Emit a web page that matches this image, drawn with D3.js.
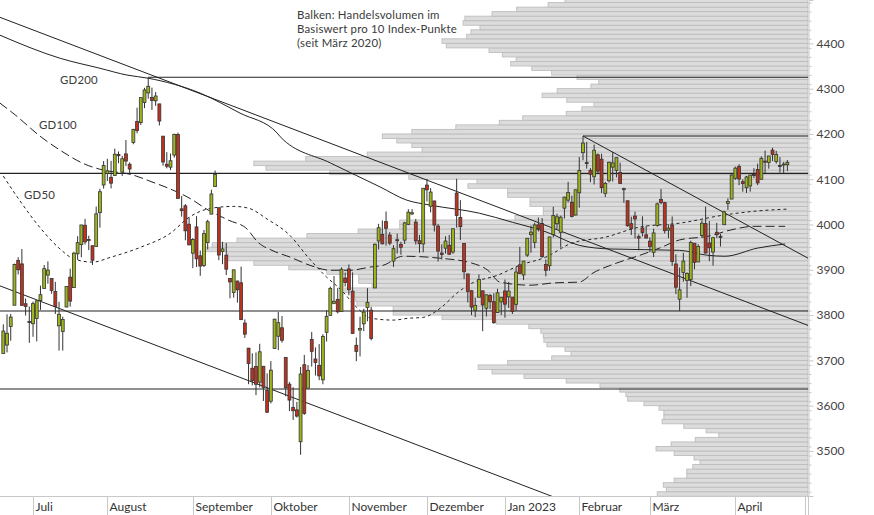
<!DOCTYPE html>
<html><head><meta charset="utf-8">
<script src="https://cdn.jsdelivr.net/npm/d3@7"></script>
<style>body{margin:0;background:#fff} svg{display:block} text{font-family:Lato,"Liberation Sans",sans-serif}</style>
</head><body><svg id="c" width="874" height="515"></svg>
<script>
// ---- data ----
const dates = ["2022-06-21","2022-06-22","2022-06-23","2022-06-24","2022-06-27","2022-06-28","2022-06-29","2022-06-30","2022-07-01","2022-07-05","2022-07-06","2022-07-07","2022-07-08","2022-07-11","2022-07-12","2022-07-13","2022-07-14","2022-07-15","2022-07-18","2022-07-19","2022-07-20","2022-07-21","2022-07-22","2022-07-25","2022-07-26","2022-07-27","2022-07-28","2022-07-29","2022-08-01","2022-08-02","2022-08-03","2022-08-04","2022-08-05","2022-08-08","2022-08-09","2022-08-10","2022-08-11","2022-08-12","2022-08-15","2022-08-16","2022-08-17","2022-08-18","2022-08-19","2022-08-22","2022-08-23","2022-08-24","2022-08-25","2022-08-26","2022-08-29","2022-08-30","2022-08-31","2022-09-01","2022-09-02","2022-09-06","2022-09-07","2022-09-08","2022-09-09","2022-09-12","2022-09-13","2022-09-14","2022-09-15","2022-09-16","2022-09-19","2022-09-20","2022-09-21","2022-09-22","2022-09-23","2022-09-26","2022-09-27","2022-09-28","2022-09-29","2022-09-30","2022-10-03","2022-10-04","2022-10-05","2022-10-06","2022-10-07","2022-10-10","2022-10-11","2022-10-12","2022-10-13","2022-10-14","2022-10-17","2022-10-18","2022-10-19","2022-10-20","2022-10-21","2022-10-24","2022-10-25","2022-10-26","2022-10-27","2022-10-28","2022-10-31","2022-11-01","2022-11-02","2022-11-03","2022-11-04","2022-11-07","2022-11-08","2022-11-09","2022-11-10","2022-11-11","2022-11-14","2022-11-15","2022-11-16","2022-11-17","2022-11-18","2022-11-21","2022-11-22","2022-11-23","2022-11-25","2022-11-28","2022-11-29","2022-11-30","2022-12-01","2022-12-02","2022-12-05","2022-12-06","2022-12-07","2022-12-08","2022-12-09","2022-12-12","2022-12-13","2022-12-14","2022-12-15","2022-12-16","2022-12-19","2022-12-20","2022-12-21","2022-12-22","2022-12-23","2022-12-27","2022-12-28","2022-12-29","2022-12-30","2023-01-03","2023-01-04","2023-01-05","2023-01-06","2023-01-09","2023-01-10","2023-01-11","2023-01-12","2023-01-13","2023-01-17","2023-01-18","2023-01-19","2023-01-20","2023-01-23","2023-01-24","2023-01-25","2023-01-26","2023-01-27","2023-01-30","2023-01-31","2023-02-01","2023-02-02","2023-02-03","2023-02-06","2023-02-07","2023-02-08","2023-02-09","2023-02-10","2023-02-13","2023-02-14","2023-02-15","2023-02-16","2023-02-17","2023-02-21","2023-02-22","2023-02-23","2023-02-24","2023-02-27","2023-02-28","2023-03-01","2023-03-02","2023-03-03","2023-03-06","2023-03-07","2023-03-08","2023-03-09","2023-03-10","2023-03-13","2023-03-14","2023-03-15","2023-03-16","2023-03-17","2023-03-20","2023-03-21","2023-03-22","2023-03-23","2023-03-24","2023-03-27","2023-03-28","2023-03-29","2023-03-30","2023-03-31","2023-04-03","2023-04-04","2023-04-05","2023-04-06","2023-04-10","2023-04-11","2023-04-12","2023-04-13","2023-04-14","2023-04-17","2023-04-18","2023-04-19","2023-04-20","2023-04-21","2023-04-24"];
const opens = [3715.3,3733.9,3774.7,3821.8,3920.8,3913.0,3825.1,3786.0,3781.0,3792.6,3832.0,3858.9,3888.3,3880.9,3851.9,3776.4,3764.0,3818.0,3883.8,3860.7,3935.3,3955.5,3998.4,3965.7,3953.2,3951.4,4026.1,4087.3,4112.4,4104.2,4108.0,4154.9,4115.9,4155.9,4133.1,4181.0,4227.4,4225.0,4269.4,4290.5,4280.4,4273.1,4266.3,4195.1,4133.1,4126.6,4153.3,4198.7,4034.6,4041.3,4000.7,3936.7,3994.7,3930.9,3909.4,3959.9,4022.9,4083.7,4037.1,3940.7,3932.4,3881.0,3849.9,3875.2,3871.4,3782.4,3727.1,3682.7,3686.4,3651.9,3687.0,3633.5,3609.8,3726.5,3753.3,3772.0,3706.7,3647.5,3595.9,3590.8,3520.4,3690.4,3638.7,3746.3,3703.1,3689.1,3657.1,3762.0,3799.4,3826.0,3834.7,3808.3,3881.9,3901.8,3852.9,3733.3,3767.0,3780.7,3817.0,3810.9,3859.9,3963.7,3978.0,4006.4,3976.8,3919.3,3966.4,3956.2,3965.5,4000.3,4023.3,4005.4,3964.2,3957.2,4087.1,4040.2,4052.0,3996.6,3937.0,3947.8,3954.2,3939.3,4069.4,4015.5,3958.4,3890.9,3853.8,3810.5,3839.5,3853.6,3815.1,3843.3,3829.6,3805.5,3829.1,3853.3,3840.4,3839.7,3823.4,3910.8,3888.6,3932.4,3977.6,3960.6,3999.3,4002.3,3911.8,3909.0,3978.1,4001.7,3982.7,4036.1,4053.7,4049.3,4020.9,4070.1,4158.7,4136.7,4119.6,4105.4,4153.9,4144.3,4068.9,4096.6,4126.7,4119.5,4114.8,4077.4,4052.4,4001.8,4018.6,3973.2,3992.4,3977.2,3963.3,3938.7,3998.0,4055.2,4048.3,3987.6,3998.7,3912.8,3835.1,3894.0,3876.7,3878.9,3958.7,3917.5,3975.9,4002.0,3959.2,3939.2,3982.9,3974.1,3999.5,4046.7,4056.2,4102.2,4128.0,4094.5,4081.2,4085.2,4110.3,4121.7,4100.0,4140.1,4137.2,4164.3,4139.3,4130.5,4132.1,4132.1];
const highs = [3779.7,3801.8,3802.6,3913.7,3927.7,3945.9,3836.5,3819.0,3829.8,3832.2,3865.2,3910.6,3918.5,3880.9,3873.4,3829.4,3796.4,3863.6,3902.4,3939.8,3974.1,3999.3,4012.4,3975.3,3953.2,4039.6,4078.9,4140.2,4145.0,4140.5,4167.7,4161.3,4151.6,4186.6,4137.3,4211.0,4257.9,4280.5,4301.8,4325.3,4302.2,4292.5,4266.3,4195.1,4159.8,4156.6,4200.5,4203.0,4063.0,4045.0,4015.4,3970.2,4018.4,3942.5,3987.9,4010.5,4076.8,4119.3,4037.1,3961.9,3959.1,3881.0,3900.5,3876.0,3907.1,3790.5,3727.1,3715.7,3717.5,3736.7,3687.0,3671.4,3698.4,3791.9,3806.9,3797.9,3706.7,3652.2,3640.7,3608.3,3685.4,3712.0,3689.7,3762.8,3728.6,3736.0,3757.9,3810.7,3862.9,3886.2,3860.0,3905.4,3893.7,3911.8,3894.4,3750.6,3796.3,3814.0,3859.4,3818.2,3958.3,4001.5,4009.0,4028.8,3983.1,3954.3,3979.9,3962.0,4005.9,4033.8,4034.0,4012.3,3976.8,4080.1,4100.5,4080.5,4052.5,4001.5,3956.4,3974.2,3977.0,3990.7,4101.0,4053.8,3958.4,3890.9,3854.9,3838.2,3889.8,3853.6,3845.8,3846.7,3848.3,3858.2,3839.9,3878.5,3873.2,3839.7,3906.2,3950.6,3919.8,3970.1,3997.8,4004.0,4015.4,4014.2,3922.9,3973.0,4039.3,4023.9,4019.6,4061.6,4094.2,4063.9,4077.2,4149.0,4195.4,4182.4,4124.6,4176.5,4156.9,4156.2,4094.4,4138.9,4159.8,4148.1,4136.5,4081.5,4052.4,4017.4,4028.3,3978.3,4018.1,3997.5,3971.7,3990.8,4048.3,4078.5,4050.0,4000.4,4017.8,3934.1,3905.1,3937.3,3894.3,3964.5,3958.9,3956.6,4009.1,4039.5,4007.7,3972.7,4003.8,3979.2,4030.6,4057.9,4110.8,4127.7,4133.1,4099.7,4107.3,4109.5,4124.3,4134.4,4150.3,4163.2,4151.7,4169.5,4162.6,4148.6,4138.0,4142.4];
const lows = [3715.3,3717.7,3743.5,3821.8,3889.7,3820.1,3799.0,3738.7,3752.1,3742.1,3811.4,3858.9,3869.3,3847.2,3802.4,3721.6,3721.6,3817.2,3818.6,3860.7,3922.0,3927.6,3955.8,3943.5,3910.7,3951.4,3993.0,4079.2,4096.0,4079.8,4108.0,4135.4,4107.3,4129.0,4112.1,4177.3,4201.4,4219.8,4256.9,4277.8,4253.1,4262.0,4218.7,4129.9,4124.0,4120.0,4147.6,4057.7,4017.4,3965.2,3954.5,3903.7,3906.2,3886.8,3906.0,3944.8,4022.9,4083.7,3921.2,3912.4,3888.3,3837.1,3838.5,3827.5,3789.5,3749.5,3647.5,3644.8,3623.3,3640.6,3610.4,3584.1,3604.9,3726.5,3722.7,3739.2,3620.7,3588.1,3568.5,3573.9,3491.6,3579.7,3638.7,3686.5,3666.5,3656.4,3647.4,3741.7,3799.4,3824.1,3803.8,3808.3,3863.2,3843.8,3758.7,3698.2,3708.8,3764.7,3786.3,3744.2,3859.9,3944.8,3956.4,3953.2,3954.3,3906.5,3936.0,3933.3,3956.9,3998.7,4020.8,3955.8,3937.7,3938.6,4050.9,4026.6,3984.5,3918.4,3922.7,3935.8,3933.0,3935.3,3993.0,3965.7,3879.5,3827.9,3800.0,3795.6,3839.5,3764.5,3797.0,3813.2,3780.8,3805.5,3800.3,3794.3,3815.8,3802.4,3809.6,3890.4,3877.3,3928.5,3937.6,3947.7,3984.6,3926.6,3885.5,3897.9,3971.6,3989.8,3949.1,4013.3,4048.7,4015.6,4020.4,4037.2,4141.9,4123.4,4093.4,4088.4,4111.7,4069.7,4060.8,4092.7,4095.0,4104.0,4089.9,4048.0,3995.2,3976.9,3969.2,3943.1,3973.6,3969.0,3939.1,3928.2,3995.2,4044.6,3980.3,3969.8,3908.7,3846.3,3808.9,3873.6,3838.2,3864.1,3901.3,3916.9,3971.2,3936.2,3919.1,3909.2,3970.5,3951.5,3999.5,4032.1,4056.2,4098.8,4086.9,4072.6,4069.8,4072.6,4102.6,4086.9,4099.4,4113.2,4123.2,4140.4,4134.5,4114.6,4113.9,4117.8];
const closes = [3764.8,3759.9,3795.7,3911.7,3900.1,3821.6,3818.8,3785.4,3825.3,3831.4,3845.1,3902.6,3899.4,3854.4,3818.8,3801.8,3790.4,3863.2,3830.9,3936.7,3959.9,3999.0,3961.6,3966.8,3921.1,4023.6,4072.4,4130.3,4118.6,4091.2,4155.2,4151.9,4145.2,4140.1,4122.5,4210.2,4207.3,4280.2,4297.1,4305.2,4274.0,4283.7,4228.5,4138.0,4128.7,4140.8,4199.1,4057.7,4030.6,3986.2,3955.0,3966.9,3924.3,3908.2,3979.9,4006.2,4067.4,4110.4,3932.7,3946.0,3901.4,3873.3,3899.9,3855.9,3789.9,3758.0,3693.2,3655.0,3647.3,3719.0,3640.5,3585.6,3678.4,3791.0,3783.3,3744.5,3639.7,3612.4,3588.8,3577.0,3669.9,3583.1,3678.0,3720.0,3695.2,3665.8,3752.8,3797.3,3859.1,3830.6,3807.3,3901.1,3872.0,3856.1,3759.7,3719.9,3770.6,3806.8,3828.1,3748.6,3956.4,3992.9,3957.3,3991.7,3958.8,3946.6,3965.3,3949.9,4003.6,4027.3,4026.1,3963.9,3957.6,4080.1,4076.6,4071.7,3998.8,3941.3,3933.9,3963.5,3934.4,3990.6,4019.7,3995.3,3895.8,3852.4,3817.7,3821.6,3878.4,3822.4,3844.8,3829.3,3783.2,3849.3,3839.5,3824.1,3853.0,3808.1,3895.1,3892.1,3919.3,3969.6,3983.2,3999.1,3991.0,3928.9,3898.9,3972.6,4019.8,4017.0,4016.2,4060.4,4070.6,4017.8,4076.6,4119.2,4179.8,4136.5,4111.1,4164.0,4117.9,4081.5,4090.5,4137.3,4136.1,4147.6,4090.4,4079.1,3997.3,3991.1,4012.3,3970.0,3982.2,3970.2,3951.4,3981.4,4045.6,4048.4,3986.4,3992.0,3918.3,3861.6,3855.8,3919.3,3891.9,3960.3,3916.6,3951.6,4002.9,3937.0,3948.7,3971.0,3977.5,3971.3,4027.8,4050.8,4109.3,4124.5,4100.6,4090.4,4105.0,4109.1,4108.9,4092.0,4146.2,4137.6,4151.3,4154.9,4154.5,4129.8,4133.5,4137.0];

// moving averages (index of trading day, value)
const gd50Idx  = [0,4.5,10,15,19,24,29,37,45,50,56,62,66,71,77,82,87,91,95,99,105,109,113,118,122,126,133,139,146,153,162,171,182,194,203,211];
const gd50Val  = [4107,4052,3992,3948,3924,3917,3928,3950,3981,4016,4036,4040,4036,4012,3977,3928,3884,3855,3818,3793,3789,3793,3795,3818,3848,3870,3888,3910,3928,3959,3972,3994,4003,4021,4030,4034];
const gd100Idx = [-0.9,3.2,9.9,15.3,22,26,35,40,44.5,51,54.3,60.5,65.6,68.5,72.3,77.2,82.5,88,93.3,98.7,102.2,107.6,117,126,130.4,133.6,141.7,148,155,158.7,165.1,171.3,176.6,182,189.6,195.8,202,210.4];
const gd100Val = [4268,4242,4195,4164,4133,4122,4109,4094,4080,4054,4036,4010,3990,3961,3943,3928,3910,3899,3899,3906,3910,3930,3926,3915,3899,3873,3866,3871,3873,3893,3915,3932,3948,3966,3974,3988,3996,3996];
const gd200Idx = [-0.9,15.3,26,33.3,39,53,63.7,73.7,74.5,88,101.4,108.5,114.8,128.1,137,146.3,155,163.3,182,189.6,194.2,203,210.4];
const gd200Val = [4418,4367,4345,4330,4323,4290,4246,4202,4194,4136,4083,4054,4043,4025,4005,3983,3954,3946,3943,3932,3930,3948,3957];

// volume profile (relative volume per 10 index points, since March 2020)
const volBuckets = d3.range(3400, 4500, 10);
const volValues = [25.0,23.5,24.0,22.2,20.1,20.1,19.1,17.9,18.9,22.2,25.2,22.7,18.7,14.8,16.9,20.6,24.2,23.9,23.9,24.7,27.2,29.9,30.2,31.2,34.5,40.1,47.1,52.4,54.7,49.8,42.5,39.3,40.3,43.3,43.8,43.9,44.3,46.3,51.7,60.7,68.8,68.8,74.8,75.0,75.5,76.8,72.3,74.5,74.5,79.8,86.1,91.9,96.2,96.2,100,98.8,94.7,83.1,74.6,67.7,67.7,48.6,43.9,43.9,46.1,46.1,49.8,49.8,56.4,54.9,66.2,79.3,89.9,91.9,83.3,73.1,64.0,65.7,68.2,70.6,65.7,58.4,51.2,47.3,40.1,37.5,35.5,40.0,44.1,41.6,36.0,34.7,38.3,42.5,45.8,49.3,48.4,50.7,52.9,60.0,60.7,56.6,55.9,54.4,57.2,56.9,52.4,48.3,43.1,40.3];

// horizontal support / resistance levels
const levelStart = [39, 156, -0.9, -0.9, -0.9];
const levelValue = [4325.3, 4195.4, 4113, 3808.9, 3636.9];
// trend lines: [[idx,val],[idx,val]]
const trendA = [[-0.89, 4457.4], [216.55, 3777.3]];
const trendB = [[156, 4195.4], [216.55, 3925.7]];
const trendC = [[-0.89, 3864.5], [216.55, 3184.4]];

const monthNames = ["Juli","August","September","Oktober","November","Dezember","Jan 2023","Februar","März","April"];
const monthIdx   = [8,28,51,72,93,114,135,155,174,197];
const yTicks = d3.range(3500, 4401, 100);

// ---- layout ----
const W = 874, H = 515, PR = 808.5, PB = 496;
const FS = 11.4;
const svg = d3.select("#c");
const x = d3.scaleLinear().domain([-0.888, 216.55]).range([0, 808]);
const y = d3.scaleLinear().domain([3400.6, 4495.7]).range([PB, 0]);
const xv = d3.scaleLinear().domain([0, 100]).range([808, 205]);

svg.append("defs").append("clipPath").attr("id","plot").append("rect")
  .attr("x",0).attr("y",0).attr("width",PR).attr("height",PB);

// volume bars
svg.append("g").attr("clip-path","url(#plot)").selectAll("rect").data(volBuckets).join("rect")
  .attr("x", (d,i) => xv(volValues[i]))
  .attr("y", d => y(d + 10))
  .attr("width", (d,i) => 808 - xv(volValues[i]))
  .attr("height", d => y(d) - y(d + 10))
  .attr("fill", "#dcdcdc").attr("stroke", "#bdbdbd").attr("stroke-width", 0.9);

const g = svg.append("g").attr("clip-path","url(#plot)");
levelValue.forEach((v,i) => {
  g.append("line").attr("x1", x(levelStart[i])).attr("x2", PR)
   .attr("y1", y(v)).attr("y2", y(v)).attr("stroke","#222").attr("stroke-width",1.1);
});
const lineGen = d3.line().x(d => x(d[0])).y(d => y(d[1]));
[trendA, trendB, trendC].forEach(t => g.append("path").attr("d", lineGen(t))
  .attr("fill","none").attr("stroke","#222").attr("stroke-width",1));
const maGen = d3.line().curve(d3.curveMonotoneX).x(d => x(d[0])).y(d => y(d[1]));
const ma = (idx, val, dash) => g.append("path").attr("d", maGen(idx.map((v,i)=>[v, val[i]])))
  .attr("fill","none").attr("stroke","#222").attr("stroke-width",1).attr("stroke-dasharray", dash);
ma(gd200Idx, gd200Val, null);
ma(gd100Idx, gd100Val, "9,4");
ma(gd50Idx, gd50Val, "3,3");

// candles
const cg = svg.append("g");
const bw = 2.9;
dates.forEach((d,i) => {
  const cx = x(i);
  cg.append("line").attr("x1",cx).attr("x2",cx).attr("y1",y(highs[i])).attr("y2",y(lows[i]))
    .attr("stroke","#333").attr("stroke-width",1);
  const top = y(Math.max(opens[i], closes[i])), bot = y(Math.min(opens[i], closes[i]));
  cg.append("rect").attr("x", cx - bw/2).attr("y", top).attr("width", bw)
    .attr("height", Math.max(bot - top, 1))
    .attr("fill", closes[i] >= opens[i] ? "#a0b41c" : "#c0321e")
    .attr("stroke","#333").attr("stroke-width",0.8);
});

// labels
const lab = svg.append("g").attr("font-size", FS).attr("fill", "#3a3a3a");
[["GD200", 60, 84], ["GD100", 39, 129], ["GD50", 24, 199]].forEach(t =>
  lab.append("text").attr("x", t[1]).attr("y", t[2]).attr("letter-spacing", 0.2).text(t[0]));
["Balken: Handelsvolumen im", "Basiswert pro 10 Index-Punkte", "(seit März 2020)"].forEach((t,i) =>
  lab.append("text").attr("x", 297).attr("y", 19 + i*13.8).attr("letter-spacing", 0.2).text(t));

// y axis
const ya = svg.append("g").attr("transform", `translate(${PR},0)`)
  .call(d3.axisRight(y).tickValues(yTicks).tickSize(5).tickPadding(3).tickFormat(d3.format("d")));
ya.select(".domain").attr("stroke","#c8c8c8");
ya.selectAll(".tick line").attr("stroke","#c8c8c8");
ya.selectAll("text").attr("font-size", 12).attr("fill","#444").attr("font-family","Lato, sans-serif");
svg.append("g").attr("transform", `translate(${PR},0)`)
  .call(d3.axisRight(y).tickValues(d3.range(3410, 4491, 20)).tickSize(3).tickFormat(""))
  .call(a => { a.select(".domain").remove(); a.selectAll("line").attr("stroke","#c8c8c8"); });
svg.append("line").attr("x1",PR).attr("x2",PR).attr("y1",PB).attr("y2",H).attr("stroke","#c8c8c8");

// x axis
const xa = svg.append("g");
xa.append("line").attr("x1",0).attr("x2",PR).attr("y1",PB+0.5).attr("y2",PB+0.5).attr("stroke","#c8c8c8");
monthIdx.forEach((m,i) => {
  const mx = Math.round(x(m)) + 0.5;
  xa.append("line").attr("x1",mx).attr("x2",mx).attr("y1",PB).attr("y2",H).attr("stroke","#c8c8c8");
  xa.append("text").attr("x", mx + 2).attr("y", 511).attr("font-size", 12).attr("fill","#333").text(monthNames[i]);
});
xa.append("line").attr("x1",805.5).attr("x2",805.5).attr("y1",PB).attr("y2",H).attr("stroke","#c8c8c8");
</script></body></html>
